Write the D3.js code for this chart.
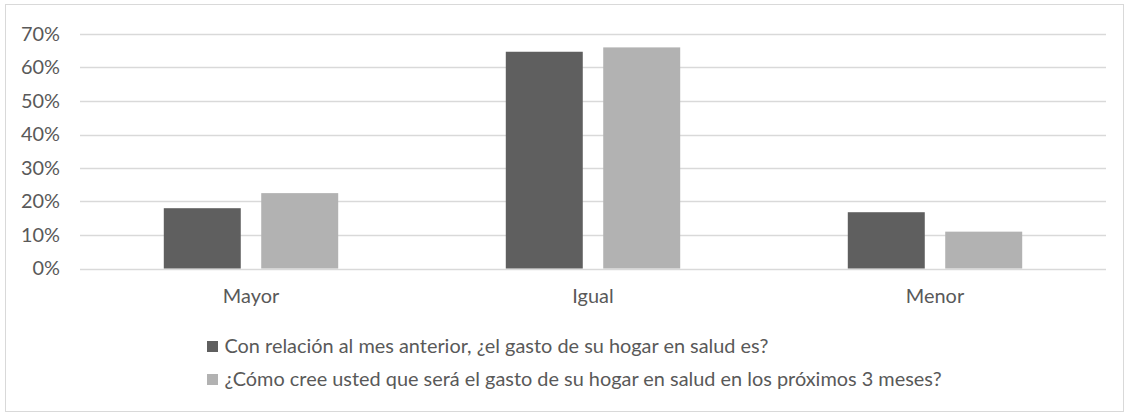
<!DOCTYPE html>
<html><head><meta charset="utf-8">
<script src="https://cdn.jsdelivr.net/npm/d3@7"></script>
<style>body{margin:0;background:#fff}svg{display:block}text{font-family:Lato,"Open Sans",sans-serif;fill:#595959}</style>
</head><body>
<svg id="c" width="1129" height="417"></svg>
<script>
const categories = ["Mayor", "Igual", "Menor"];
const seriesNames = [
  "Con relación al mes anterior, ¿el gasto de su hogar en salud es?",
  "¿Cómo cree usted que será el gasto de su hogar en salud en los próximos 3 meses?"
];
const seriesA = [0.18, 0.647, 0.168];
const seriesB = [0.225, 0.66, 0.11];
const yTicks = [0, 0.1, 0.2, 0.3, 0.4, 0.5, 0.6, 0.7];
const colors = ["#5f5f5f", "#b2b2b2"];

(function () {
const svg = d3.select("#c");
svg.append("rect").attr("x", 5.5).attr("y", 4.5).attr("width", 1118).attr("height", 407)
  .attr("fill", "#fff").attr("stroke", "#d9d9d9");

const pL = 80, pR = 1106, pT = 34, pB = 268.5;
const x0 = d3.scaleBand().domain(categories).range([pL, pR]).paddingInner(0.49).paddingOuter(0.245);
const x1 = d3.scaleBand().domain([0, 1]).range([0, x0.bandwidth()]).paddingInner(0.21);
const y = d3.scaleLinear().domain([0, 0.7]).range([pB, pT]);

const fs = 19.9;
svg.append("g").selectAll("line").data(yTicks).join("line")
  .attr("x1", pL).attr("x2", pR)
  .attr("y1", d => Math.round(y(d)) + 0.5).attr("y2", d => Math.round(y(d)) + 0.5)
  .attr("stroke", "#d9d9d9").attr("stroke-width", 1.3);

svg.append("g").selectAll("text").data(yTicks).join("text")
  .attr("x", 60).attr("y", d => y(d)).attr("dy", "0.35em")
  .attr("text-anchor", "end").attr("font-size", fs)
  .text(d => d3.format(".0%")(d));

const data = categories.map((c, i) => ({c, v: [seriesA[i], seriesB[i]]}));
const g = svg.append("g").selectAll("g").data(data).join("g")
  .attr("transform", d => `translate(${x0(d.c)},0)`);
g.selectAll("rect").data(d => d.v.map((v, k) => ({v, k}))).join("rect")
  .attr("x", d => x1(d.k)).attr("width", x1.bandwidth())
  .attr("y", d => y(d.v)).attr("height", d => y(0) - y(d.v))
  .attr("fill", d => colors[d.k]);

svg.append("g").selectAll("text").data(categories).join("text")
  .attr("x", d => x0(d) + x0.bandwidth() / 2).attr("y", 303)
  .attr("text-anchor", "middle").attr("font-size", fs).text(d => d);

const lg = svg.append("g").selectAll("g").data(seriesNames).join("g")
  .attr("transform", (d, i) => `translate(207,${341 + i * 33})`);
lg.append("rect").attr("width", 11).attr("height", 11).attr("fill", (d, i) => colors[i]);
lg.append("text").attr("x", 17.5).attr("y", 11.5).attr("font-size", fs).text(d => d);
})();
</script>
</body></html>
